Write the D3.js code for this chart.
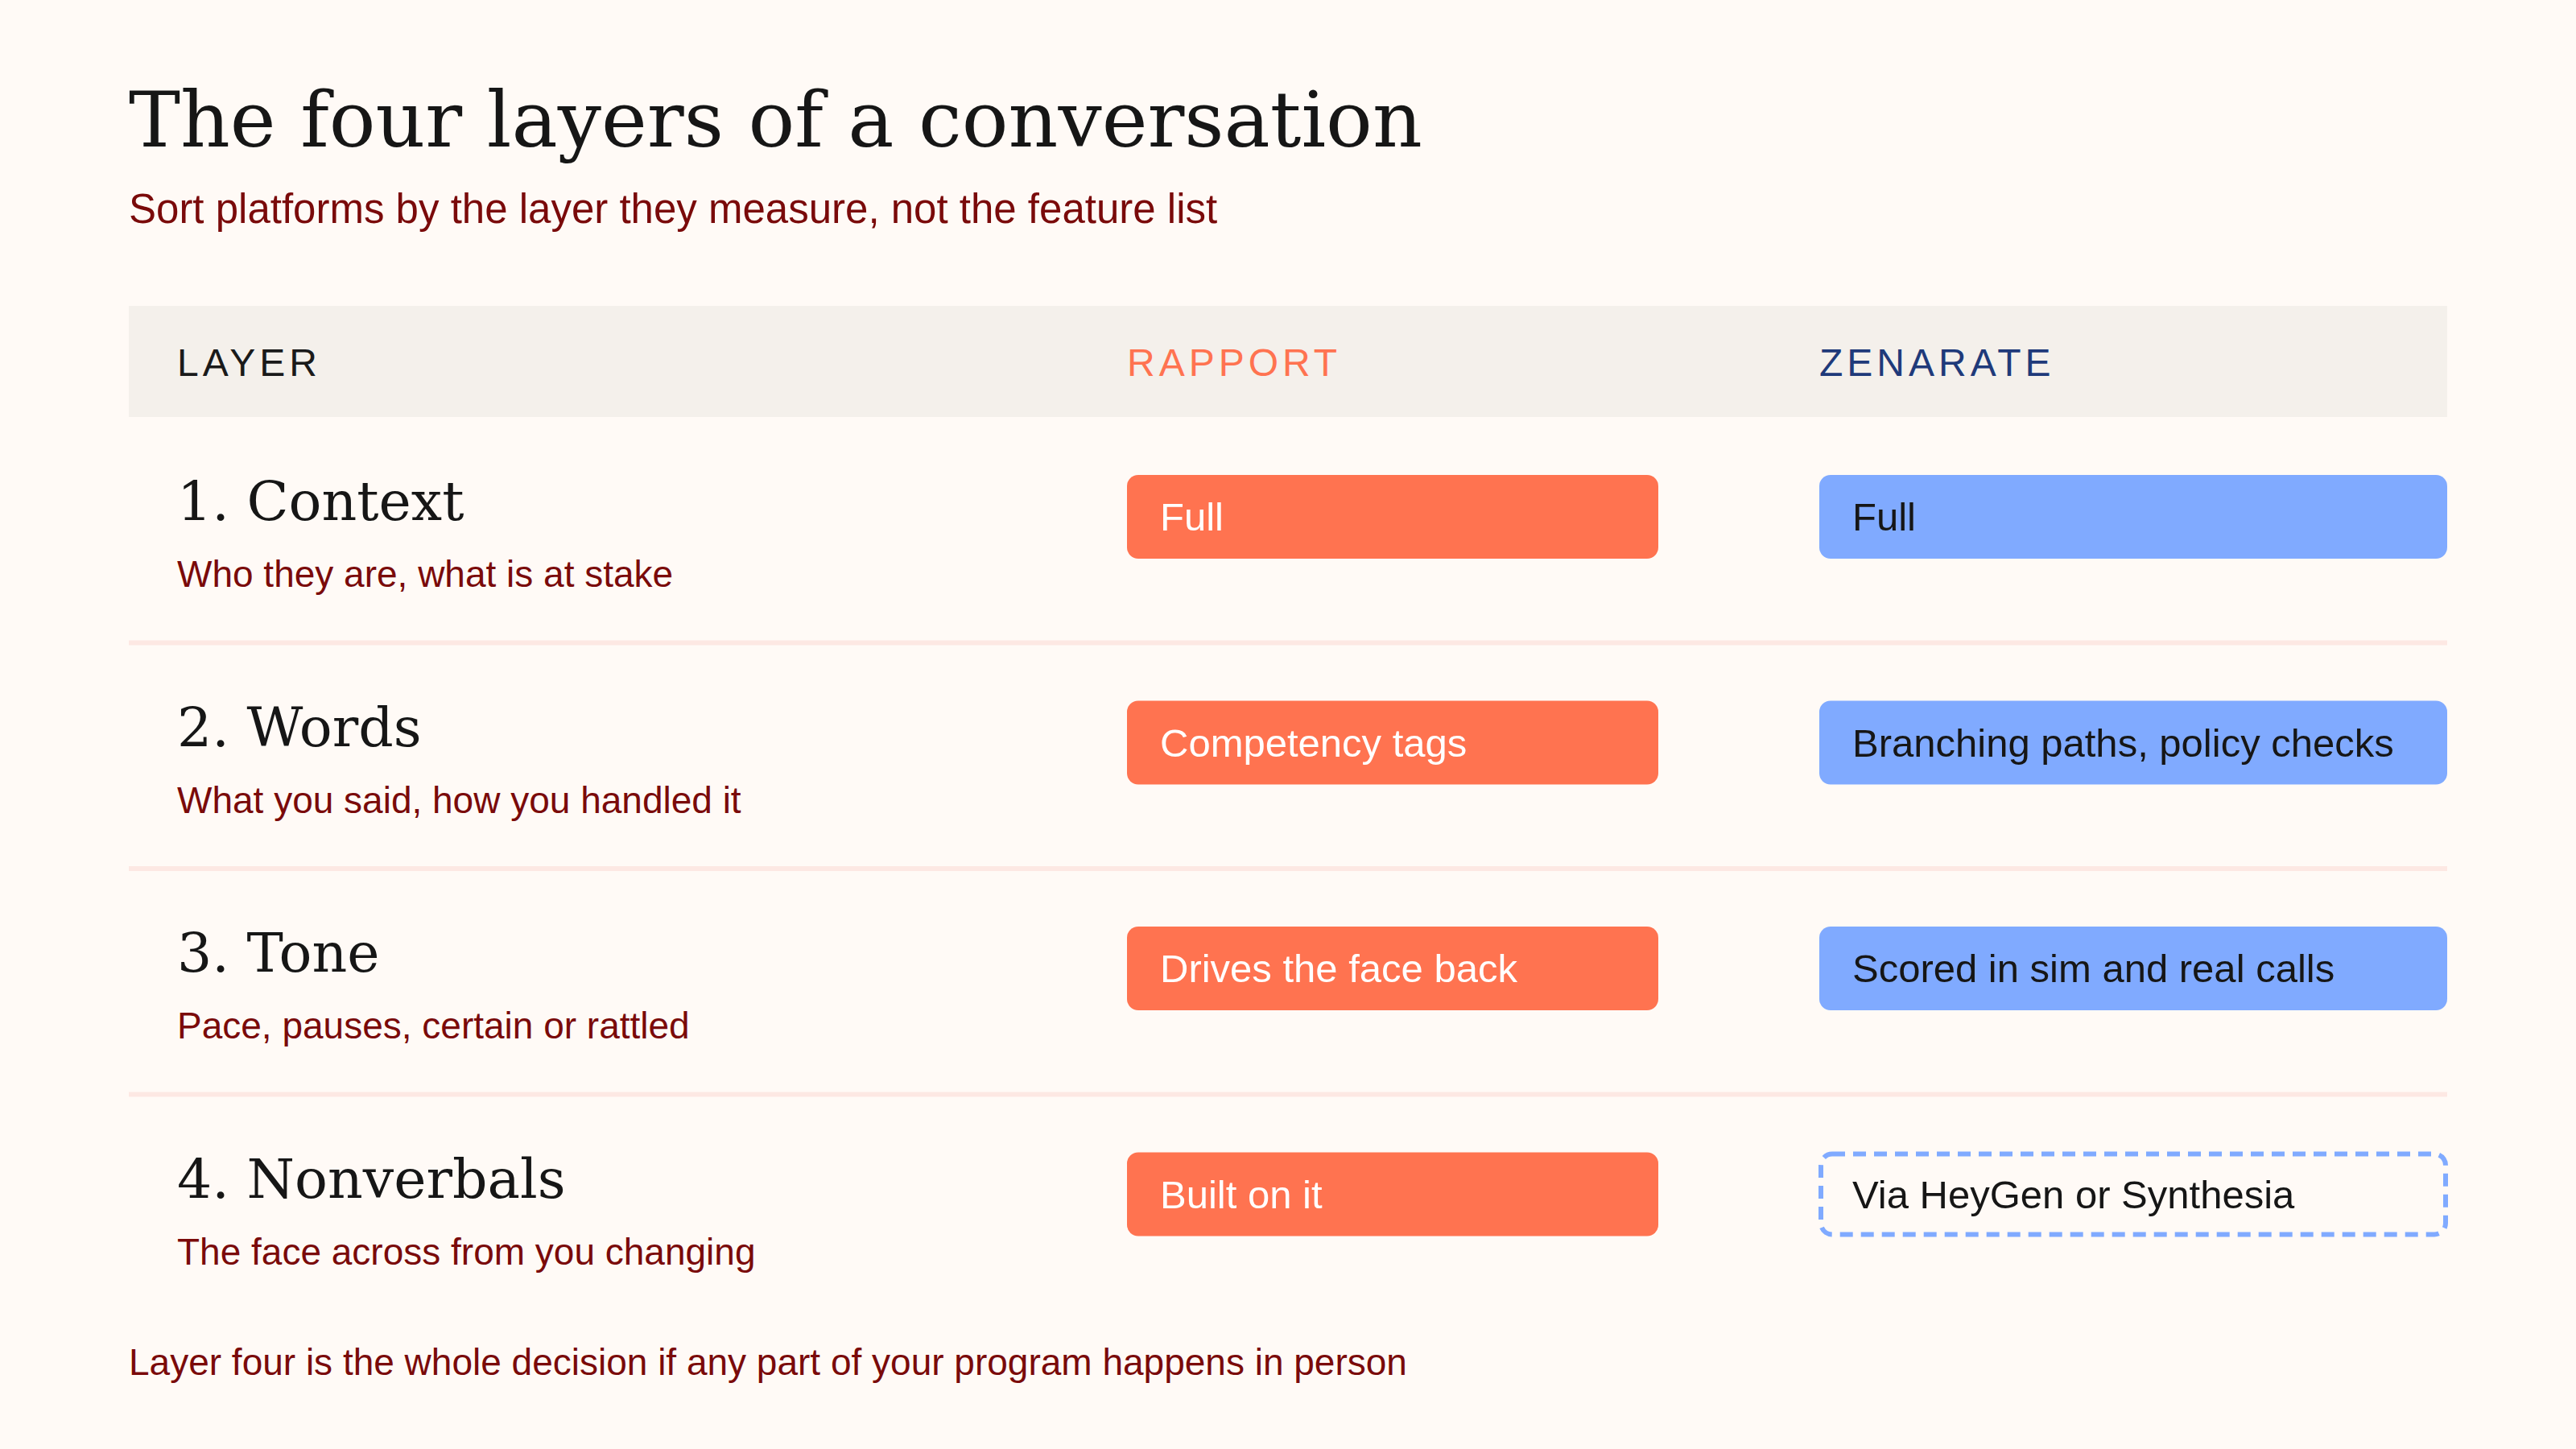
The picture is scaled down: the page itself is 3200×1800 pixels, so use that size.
<!DOCTYPE html>
<html>
<head>
<meta charset="utf-8">
<script src="https://cdn.jsdelivr.net/npm/d3@7"></script>
<style>
  body { margin: 0; background: #fffaf6; }
</style>
</head>
<body>
<div id="chart-area"></div>
<script>
const layers = ['1. Context', '2. Words', '3. Tone', '4. Nonverbals']
const layerNotes = ['Who they are, what is at stake', 'What you said, how you handled it',
  'Pace, pauses, certain or rattled', 'The face across from you changing']
const rapport = ['Full', 'Competency tags', 'Drives the face back', 'Built on it']
const zenarate = ['Full', 'Branching paths, policy checks', 'Scored in sim and real calls', 'Via HeyGen or Synthesia']
const zenarateDashed = [false, false, false, true]
const columns = ['LAYER', 'RAPPORT', 'ZENARATE']

const width = 3200, height = 1800
const serif = "'DejaVu Serif', Georgia, serif"
const sans = "'Liberation Sans', Arial, sans-serif"
const darkRed = '#7a0a0a'

const svg = d3.select('#chart-area').append('svg')
  .attr('width', width).attr('height', height)
  .style('background', '#fffaf6')

svg.append('text').attr('x', 160).attr('y', 182)
  .attr('font-family', serif).attr('font-size', 96).attr('fill', '#161616')
  .text('The four layers of a conversation')

svg.append('text').attr('x', 160).attr('y', 277)
  .attr('font-family', sans).attr('font-size', 51).attr('fill', darkRed)
  .text('Sort platforms by the layer they measure, not the feature list')

// header band
svg.append('rect').attr('x', 160).attr('y', 380).attr('width', 2880).attr('height', 138)
  .attr('fill', '#f4f0eb')

const colX = d3.scaleOrdinal().domain(columns).range([220, 1400, 2260])
const colColor = d3.scaleOrdinal().domain(columns).range(['#1a1a1a', '#ff7350', '#1f3a7a'])

svg.selectAll('.head').data(columns).enter().append('text')
  .attr('x', d => colX(d)).attr('y', 467)
  .attr('font-family', sans).attr('font-size', 48).attr('letter-spacing', 5)
  .attr('fill', d => colColor(d)).text(d => d)

const y = d3.scaleBand().domain(layers).range([518, 1640]).paddingInner(0)

const rows = svg.selectAll('.row').data(layers).enter().append('g')
  .attr('transform', d => `translate(0,${y(d)})`)

rows.filter((d, i) => i < layers.length - 1).append('rect')
  .attr('x', 160).attr('y', y.bandwidth() - 3).attr('width', 2880).attr('height', 6)
  .attr('fill', '#fde8e3')

rows.append('text').attr('x', 220).attr('y', 128)
  .attr('font-family', serif).attr('font-size', 68).attr('fill', '#161616')
  .text(d => d)

rows.append('text').attr('x', 220).attr('y', 211)
  .attr('font-family', sans).attr('font-size', 46).attr('fill', darkRed)
  .text((d, i) => layerNotes[i])

// rapport pills
rows.append('rect').attr('x', 1400).attr('y', 72).attr('width', 660).attr('height', 104)
  .attr('rx', 14).attr('fill', '#ff7350')
rows.append('text').attr('x', 1441).attr('y', 141)
  .attr('font-family', sans).attr('font-size', 49).attr('fill', '#ffffff')
  .text((d, i) => rapport[i])

// zenarate pills
rows.append('rect')
  .attr('x', (d, i) => zenarateDashed[i] ? 2262 : 2260)
  .attr('y', (d, i) => zenarateDashed[i] ? 74 : 72)
  .attr('width', (d, i) => zenarateDashed[i] ? 776 : 780)
  .attr('height', (d, i) => zenarateDashed[i] ? 100 : 104)
  .attr('rx', 14)
  .attr('fill', (d, i) => zenarateDashed[i] ? 'none' : '#80aaff')
  .attr('stroke', (d, i) => zenarateDashed[i] ? '#80aaff' : 'none')
  .attr('stroke-width', 6).attr('stroke-dasharray', '16,10')
rows.append('text').attr('x', 2301).attr('y', 141)
  .attr('font-family', sans).attr('font-size', 49).attr('fill', '#161616')
  .text((d, i) => zenarate[i])

svg.append('text').attr('x', 160).attr('y', 1708)
  .attr('font-family', sans).attr('font-size', 46).attr('fill', darkRed)
  .text('Layer four is the whole decision if any part of your program happens in person')
</script>
</body>
</html>
